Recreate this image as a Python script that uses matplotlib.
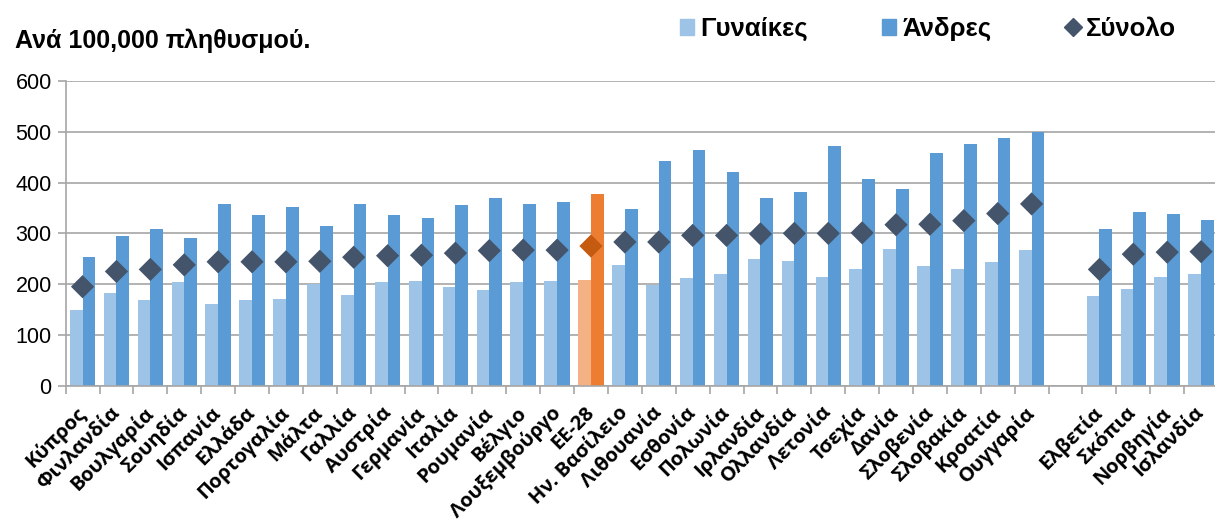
import matplotlib
matplotlib.use('Agg')
import matplotlib.pyplot as plt
import matplotlib.transforms as mtransforms
from matplotlib.patches import Patch
from matplotlib.lines import Line2D
import numpy as np

plt.rcParams['font.family'] = ['Liberation Sans', 'DejaVu Sans']

# Χώρες (η ΕΕ-28 μέσα στη σειρά, κενό πριν από τις χώρες εκτός ΕΕ)
countries = ['Κύπρος', 'Φινλανδία', 'Βουλγαρία', 'Σουηδία', 'Ισπανία', 'Ελλάδα',
             'Πορτογαλία', 'Μάλτα', 'Γαλλία', 'Αυστρία', 'Γερμανία', 'Ιταλία',
             'Ρουμανία', 'Βέλγιο', 'Λουξεμβούργο', 'ΕΕ-28', 'Ην. Βασίλειο',
             'Λιθουανία', 'Εσθονία', 'Πολωνία', 'Ιρλανδία', 'Ολλανδία', 'Λετονία',
             'Τσεχία', 'Δανία', 'Σλοβενία', 'Σλοβακία', 'Κροατία', 'Ουγγαρία',
             'Ελβετία', 'Σκόπια', 'Νορβηγία', 'Ισλανδία']
women = [150, 183, 169, 204, 161, 169, 171, 200, 179, 204, 206, 194,
         189, 205, 207, 208, 238, 199, 213, 219, 250, 246, 215,
         230, 269, 235, 230, 243, 267,
         176, 191, 214, 220]
men = [253, 295, 309, 290, 357, 337, 351, 315, 357, 336, 330, 355,
       369, 358, 362, 378, 347, 442, 464, 421, 369, 382, 472,
       407, 387, 458, 476, 488, 500,
       308, 343, 338, 327]
total = [195, 225, 229, 238, 244, 244, 244, 245, 253, 256, 257, 261,
         266, 267, 267, 275, 283, 283, 296, 296, 299, 300, 300,
         301, 317, 318, 325, 339, 358,
         229, 259, 263, 264]
n_eu = 29  # χώρες ΕΕ + ΕΕ-28 πριν το κενό

c_women = '#9DC3E6'
c_men = '#5B9BD5'
c_total = '#44546A'
c_eu_w = '#F4B183'
c_eu_m = '#ED7D31'
c_eu_t = '#C55A11'
grid_c = '#A6A6A6'

fig = plt.figure(figsize=(12.15, 5.24), dpi=100)
ax = fig.add_axes([0.054, 0.2639, 0.9485, 0.5815])

idx = np.arange(len(countries))
x = idx + (idx >= n_eu)  # ένα κενό πριν την Ελβετία
bw = 0.375

eu = countries.index('ΕΕ-28')
cw = [c_eu_w if i == eu else c_women for i in idx]
cm = [c_eu_m if i == eu else c_men for i in idx]
ct = [c_eu_t if i == eu else c_total for i in idx]

ax.bar(x - bw / 2, women, bw, color=cw, zorder=2)
ax.bar(x + bw / 2, men, bw, color=cm, zorder=2)
ax.scatter(x, total, marker='D', s=140, c=ct, zorder=3, linewidths=0)

ax.set_xlim(-0.5, x[-1] + 0.5)
ax.set_ylim(0, 600)
ax.set_yticks(range(0, 601, 100))
ax.yaxis.grid(True, color=grid_c, linewidth=1.2, zorder=0)
ax.set_axisbelow(True)

for s in ['top', 'right']:
    ax.spines[s].set_visible(False)
ax.spines['left'].set_color(grid_c)
ax.spines['bottom'].set_color(grid_c)
ax.spines['left'].set_linewidth(1.2)
ax.spines['bottom'].set_linewidth(1.2)

ax.tick_params(axis='y', colors=grid_c, length=6, width=1.2, labelsize=15.5,
               labelcolor='black', pad=4)
ax.set_xticks(x)
ax.set_xticklabels(countries, rotation=45, ha='right', va='top',
                   rotation_mode='anchor', fontsize=14.5, fontweight='bold',
                   family=['Open Sans', 'DejaVu Sans'])
ax.tick_params(axis='x', length=0, pad=8)
# μετακίνηση των ετικετών λίγο αριστερά και κάτω, όπως στο πρωτότυπο
shift = mtransforms.ScaledTranslation(-0.07, -0.06, fig.dpi_scale_trans)
for lbl in ax.get_xticklabels():
    lbl.set_transform(lbl.get_transform() + shift)
ax.set_xticks(np.arange(-0.5, x[-1] + 1, 1), minor=True)
ax.tick_params(axis='x', which='minor', length=6, width=1.2, colors=grid_c)

fig.text(0.0123, 0.9227, 'Ανά 100,000 πληθυσμού.', fontsize=18, fontweight='bold',
         va='center', ha='left')

handles = [Patch(color=c_women, label='Γυναίκες'),
           Patch(color=c_men, label='Άνδρες'),
           Line2D([], [], marker='D', color=c_total, linestyle='none',
                  markersize=8.7, label='Σύνολο')]
fig.legend(handles=handles, loc='center left', bbox_to_anchor=(0.5597, 0.9447),
           ncol=3, frameon=False, handlelength=0.55, handleheight=0.55,
           handletextpad=0.23, columnspacing=2.9, borderpad=0, borderaxespad=0,
           prop={'size': 18.5, 'weight': 'bold'})

fig.savefig('out.png', dpi=100)
